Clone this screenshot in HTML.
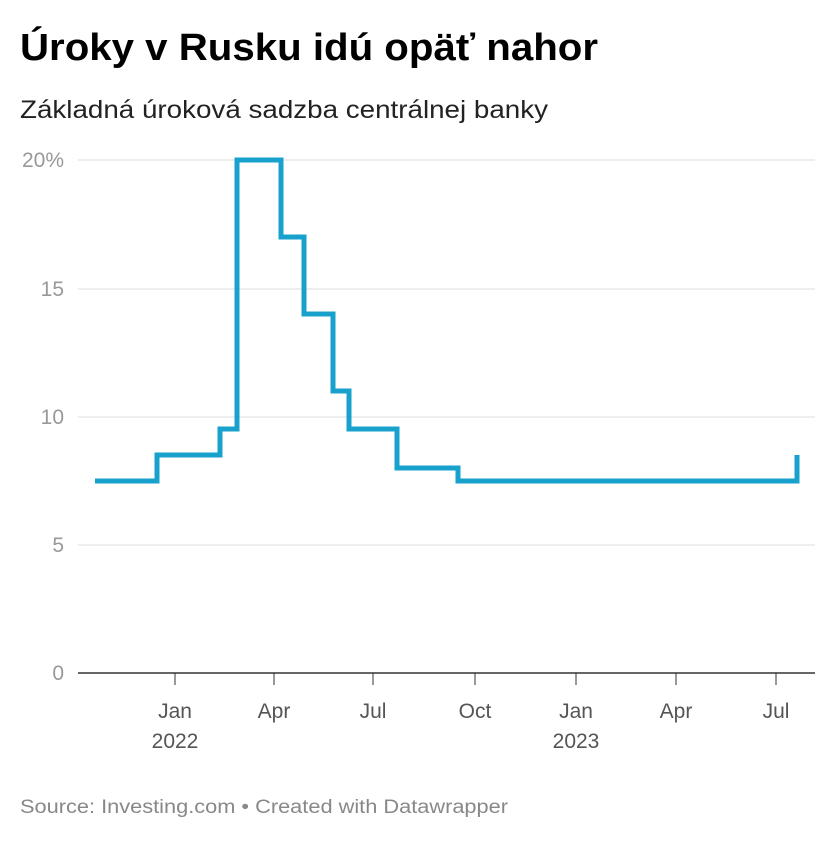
<!DOCTYPE html>
<html><head><meta charset="utf-8"><style>
body{margin:0;background:#fff;width:840px;height:840px;overflow:hidden;font-family:"Liberation Sans",sans-serif}
</style></head><body>
<svg width="840" height="840" xmlns="http://www.w3.org/2000/svg" font-family="Liberation Sans, sans-serif">
<text x="20" y="60" font-size="38" font-weight="bold" fill="#000" textLength="578" lengthAdjust="spacingAndGlyphs">Úroky v Rusku idú opäť nahor</text>
<text x="20" y="118" font-size="25" fill="#222" textLength="528" lengthAdjust="spacingAndGlyphs">Základná úroková sadzba centrálnej banky</text>
<g stroke="#ddd" stroke-width="1">
<line x1="78" y1="160" x2="815" y2="160"/>
<line x1="78" y1="289" x2="815" y2="289"/>
<line x1="78" y1="417" x2="815" y2="417"/>
<line x1="78" y1="545" x2="815" y2="545"/>
</g>
<line x1="78" y1="673" x2="815" y2="673" stroke="#333" stroke-width="1.5"/>
<g font-size="21" fill="#999" text-anchor="end">
<text x="64" y="167">20%</text>
<text x="64" y="296">15</text>
<text x="64" y="424">10</text>
<text x="64" y="552">5</text>
<text x="64" y="680">0</text>
</g>
<g stroke="#333" stroke-width="1">
<line x1="175" y1="673" x2="175" y2="685"/><line x1="274" y1="673" x2="274" y2="685"/>
<line x1="373" y1="673" x2="373" y2="685"/><line x1="475" y1="673" x2="475" y2="685"/>
<line x1="576" y1="673" x2="576" y2="685"/><line x1="676" y1="673" x2="676" y2="685"/>
<line x1="776" y1="673" x2="776" y2="685"/>
</g>
<g font-size="21" fill="#555" text-anchor="middle">
<text x="175" y="718">Jan</text><text x="175" y="748">2022</text>
<text x="274" y="718">Apr</text><text x="373" y="718">Jul</text><text x="475" y="718">Oct</text>
<text x="576" y="718">Jan</text><text x="576" y="748">2023</text>
<text x="676" y="718">Apr</text><text x="776" y="718">Jul</text>
</g>
<polyline fill="none" stroke="#18a1cd" stroke-width="5" stroke-linejoin="miter"
points="95,481 157,481 157,455 220,455 220,429 237,429 237,160 281,160 281,237 304,237 304,314 333,314 333,391 349,391 349,429 397,429 397,468 458,468 458,481 797,481 797,455"/>
<text x="20" y="813" font-size="19" fill="#888" textLength="488" lengthAdjust="spacingAndGlyphs">Source: Investing.com • Created with Datawrapper</text>
</svg>
</body></html>
